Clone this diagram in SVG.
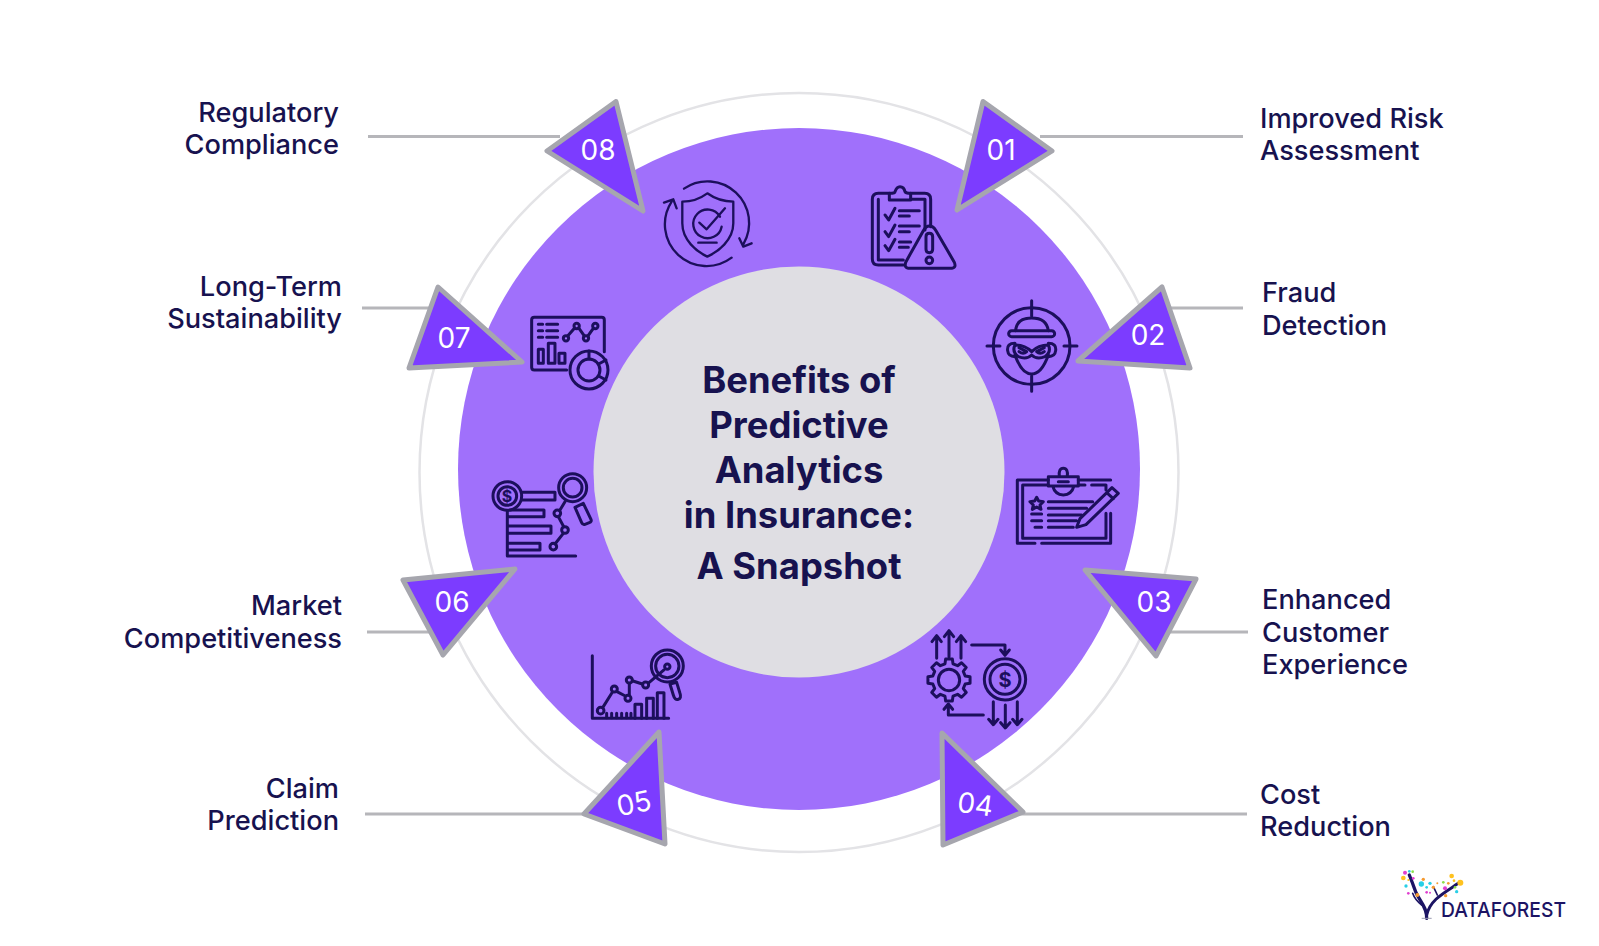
<svg xmlns="http://www.w3.org/2000/svg" width="1599" height="946" viewBox="0 0 1599 946">
<style>
.lbl{font-family:"Inter","Liberation Sans",sans-serif;font-size:27.200px;font-weight:500;fill:#17124f}
.ttl{font-family:"Inter","Liberation Sans",sans-serif;font-size:36.400px;font-weight:700;fill:#17124f;text-anchor:middle}
.num{font-family:"Inter","Liberation Sans",sans-serif;font-size:28px;font-weight:400;fill:#fff;text-anchor:middle}
.tri{fill:#7c3cff;stroke:#a6a6ae;stroke-width:5;stroke-linejoin:round}
.con{stroke:#b6b6ba;stroke-width:3;fill:none}
.ic{fill:none;stroke:#1c0f5c;stroke-width:9;stroke-linecap:round;stroke-linejoin:round}
.th{stroke-width:7}
.dol{font-family:"Inter","Liberation Sans",sans-serif;font-weight:700;fill:#1c0f5c;text-anchor:middle}
.end{text-anchor:end}
</style>
<rect width="1599" height="946" fill="#fff"/>
<g id="rings">
<circle cx="799" cy="472.500" r="379.500" fill="none" stroke="#e3e3e6" stroke-width="2.500"/>
<circle cx="799" cy="469" r="341" fill="#a070fb"/>
<circle cx="799" cy="472" r="205.500" fill="#dfdee3"/>
</g>
<g id="connectors">
<path class="con" d="M1040 136.500H1243M1140 308H1243M1160 632H1248M1015 814H1247M590 814H365M435 632H367M455 308H362M560 136.500H368"/>
</g>
<g id="title">
<text class="ttl" x="799" y="393">Benefits of</text>
<text class="ttl" x="799" y="438">Predictive</text>
<text class="ttl" x="799" y="483">Analytics</text>
<text class="ttl" x="799" y="528">in Insurance:</text>
<text class="ttl" x="799" y="579">A Snapshot</text>
</g>
<g id="node-01">
<polygon class="tri" points="983,101.500 1052,151 957,210"/>
<text class="num" x="1001" y="160">01</text>
<text class="lbl" x="1260" y="127.500">Improved Risk</text>
<text class="lbl" x="1260" y="160">Assessment</text>
<g class="ic" transform="translate(840,80) scale(.3333)">
<path d="M190 555H115Q97 555 97 537V358Q97 340 115 340H148M212 340H254Q272 340 272 358V440M115 358V540H190M212 358H255V450"/>
<path d="M148 360V340Q165 340 165 335Q170 320 180 320Q192 320 195 335Q197 340 212 340V360Z"/>
<path d="M135 405L146 420L165 385M135 455L146 470L165 435M135 497L146 512L165 478M178 392H238M178 408H208M178 438H238M178 455H208M178 486H212M178 502H205"/>
<path d="M268 438Q258 438 250 452L198 545Q190 565 210 565H330Q352 565 342 545L288 452Q280 438 268 438Z"/>
<path d="M258 470Q258 460 268 460Q278 460 278 470V508Q278 518 268 518Q258 518 258 508Z"/>
<circle cx="268" cy="541" r="10"/>
</g>
</g>
<g id="node-02">
<polygon class="tri" points="1162,287 1190,368 1078,361"/>
<text class="num" x="1148" y="345">02</text>
<text class="lbl" x="1262" y="302">Fraud</text>
<text class="lbl" x="1262" y="334.500">Detection</text>
<g class="ic" transform="translate(840,80) scale(.3333)">
<circle cx="575" cy="798" r="115"/>
<path d="M575 662V708M575 888V934M441 798H480M672 798H711"/>
<path d="M527 752Q530 714 575 714Q620 714 625 752"/>
<rect x="506" y="752" width="138" height="18" rx="9"/>
<path d="M525 825Q545 882 575 882Q605 882 625 825"/>
<path d="M525 790Q500 790 503 812Q505 830 525 830M625 790Q650 790 647 812Q645 830 625 830"/>
<path d="M525 795Q555 795 575 815Q595 795 625 795Q635 815 615 830Q590 840 575 825Q560 840 535 830Q515 815 525 795Z"/>
<path d="M537 803L560 815Q550 825 537 815M613 803L590 815Q600 825 613 815"/>
</g>
</g>
<g id="node-03">
<polygon class="tri" points="1085,570 1196,579 1156,656"/>
<text class="num" x="1154" y="612">03</text>
<text class="lbl" x="1262" y="609">Enhanced</text>
<text class="lbl" x="1262" y="641.500">Customer</text>
<text class="lbl" x="1262" y="674">Experience</text>
<g class="ic" transform="translate(900,450) scale(.3333)">
<path d="M445 90H352V280H405M425 280H632V190M632 90H535M368 105V265H618V190M368 105H445M535 105H555M575 105H618V120"/>
<path d="M445 80H535V108H445ZM478 80Q475 55 490 55Q505 55 502 80M458 108Q465 135 490 135Q515 135 522 108M475 95H505"/>
<path d="M410 142L416 153L430 155L420 165L423 178L410 171L397 178L400 165L390 155L404 153Z"/>
<path d="M445 155H578M445 175H560M445 195H545M445 212H530M445 232H520M395 192H425M395 212H425M405 232H425"/>
<path d="M636 113L655 130L558 224L530 232L540 206ZM620 128L640 146"/>
</g>
</g>
<g id="node-04">
<polygon class="tri" points="942,733 1023,812 943,845"/>
<text class="num" transform="translate(974,814) rotate(8)">04</text>
<text class="lbl" x="1260" y="803.500">Cost</text>
<text class="lbl" x="1260" y="836">Reduction</text>
<g class="ic" transform="translate(900,450) scale(.3333)">
<path d="M110 625V560M147 620V545M183 625V560M96 575L110 557L124 575M133 560L147 542L161 560M169 575L183 557L197 575"/>
<polygon transform="translate(147,690)" points="48.500,-12.100 63.200,-10 63.200,10 48.500,12.100 42.900,25.800 51.800,37.600 37.600,51.800 25.800,42.900 12.100,48.500 10,63.200 -10,63.200 -12.100,48.500 -25.800,42.900 -37.600,51.800 -51.800,37.600 -42.900,25.800 -48.500,12.100 -63.200,10 -63.200,-10 -48.500,-12.100 -42.900,-25.800 -51.800,-37.600 -37.600,-51.800 -25.800,-42.900 -12.100,-48.500 -10,-63.200 10,-63.200 12.100,-48.500 25.800,-42.900 37.600,-51.800 51.800,-37.600 42.900,-25.800"/>
<circle cx="147" cy="690" r="32"/>
<circle cx="315" cy="688" r="62"/>
<circle cx="315" cy="688" r="45"/>
<path d="M215 585H315V612M302 600L315 616L328 600M250 795H145V768M132 778L145 762L158 778"/>
<path d="M280 755V822M316 765V832M352 755V822M266 808L280 824L294 808M302 818L316 834L330 818M338 808L352 824L366 808"/>
</g>
<text class="dol" x="1005" y="687" font-size="20">$</text>
</g>
<g id="node-05">
<polygon class="tri" points="659,732 584,814 665,844"/>
<text class="num" transform="translate(636,813) rotate(-12)">05</text>
<text class="lbl end" x="339" y="797.500">Claim</text>
<text class="lbl end" x="339" y="830">Prediction</text>
<g class="ic" transform="translate(390,450) scale(.3333)">
<path d="M607 617V805H836"/>
<path d="M735 805V763H755V805M770 805V745H790V805M802 805V728H822V805"/>
<path d="M650 790V803M665 790V803M680 790V803M695 790V803M710 790V803M723 790V803"/>
<path d="M640 770L667 727M681 725L706 738M718 735L718 702M729 693L757 702M777 698L822 660"/>
<circle cx="632" cy="782" r="10"/><circle cx="673" cy="717" r="9"/><circle cx="714" cy="745" r="9"/><circle cx="718" cy="690" r="9"/><circle cx="767" cy="705" r="9"/><circle cx="832" cy="650" r="8"/>
<circle cx="832" cy="648" r="48"/><circle cx="832" cy="648" r="35"/>
<path d="M840 702L850 735Q855 752 865 748Q875 745 870 730L860 697Z"/>
</g>
</g>
<g id="node-06">
<polygon class="tri" points="403,580 515,569 443,655"/>
<text class="num" x="452" y="612">06</text>
<text class="lbl end" x="342" y="615">Market</text>
<text class="lbl end" x="342" y="647.500">Competitiveness</text>
<g class="ic" transform="translate(390,450) scale(.3333)">
<circle cx="352" cy="138" r="43"/><circle cx="352" cy="138" r="28"/>
<path d="M398 127H495V150H395M360 180H462V200H357M357 228H483V250H357M357 280H450V300H357M352 182V318H557"/>
<circle cx="548" cy="113" r="42"/><circle cx="548" cy="113" r="28"/>
<path d="M555 172L580 160L603 208Q606 215 598 218L585 223Q578 225 575 218Z"/>
<path d="M495 282L520 250M520 228L505 200M510 180L525 155"/>
<circle cx="490" cy="290" r="10"/><circle cx="525" cy="240" r="10"/><circle cx="502" cy="190" r="10"/>
</g>
<text class="dol" x="507" y="502" font-size="16">$</text>
</g>
<g id="node-07">
<polygon class="tri" points="438,287 522,362 409,368"/>
<text class="num" x="454" y="348">07</text>
<text class="lbl end" x="342" y="295.500">Long-Term</text>
<text class="lbl end" x="342" y="328">Sustainability</text>
<g class="ic" transform="translate(390,80) scale(.3333)">
<path d="M530 870H433Q425 870 425 862V720Q425 712 433 712H635Q643 712 643 720V815"/>
<path d="M445 733H458M470 733H503M445 752H458M470 752H503M445 772H458M470 772H503"/>
<path d="M533 768L554 744M566 744L583 768M594 768L610 745"/>
<circle cx="528" cy="775" r="8"/><circle cx="560" cy="738" r="8"/><circle cx="588" cy="775" r="8"/><circle cx="616" cy="738" r="8"/>
<rect x="445" y="808" width="15" height="42"/><rect x="475" y="790" width="20" height="60"/><rect x="507" y="820" width="18" height="30"/>
<circle cx="597" cy="870" r="57"/><circle cx="597" cy="870" r="33"/>
<path d="M597 813V837M626 888L648 900M626 852L648 840"/>
</g>
</g>
<g id="node-08">
<polygon class="tri" points="616,101.500 547,151 643,211"/>
<text class="num" x="598" y="160">08</text>
<text class="lbl end" x="339" y="121.500">Regulatory</text>
<text class="lbl end" x="339" y="154">Compliance</text>
<g class="ic th" transform="translate(390,80) scale(.3333)">
<path d="M952 340C925 360 900 365 877 365V430C877 480 920 515 952 530C985 515 1030 480 1030 430V365C1005 365 980 360 952 340Z"/>
<path d="M990 410A43 43 0 1 0 995 440"/>
<path d="M928 428L950 448L1005 385M925 488H980"/>
<path d="M882 326A125 125 0 0 1 1060 493M1048 475L1060 500L1085 490"/>
<path d="M1025 533A125 125 0 0 1 845 365M822 368L850 358L860 385"/>
</g>
</g>
<g id="logo" transform="translate(1380,850) scale(.3333)">
<g fill="none" stroke="#1c1464" stroke-linecap="round">
<path stroke-width="10" d="M140 205C142 170 115 150 105 120Q98 100 88 75"/>
<path stroke-width="9" d="M140 195C150 150 190 130 235 100"/>
<path stroke-width="5" d="M125 165Q105 150 98 130M172 135Q165 120 160 110"/>
</g>
<path d="M125 205H155" stroke="#9a9ab0" stroke-width="3"/>
<g fill="#ffc21f"><circle cx="241" cy="98" r="9"/><circle cx="215" cy="78" r="7"/><circle cx="70" cy="84" r="7"/><circle cx="222" cy="92" r="4"/><circle cx="85" cy="90" r="3"/></g>
<g fill="#29cfe6"><circle cx="124" cy="102" r="8"/><circle cx="150" cy="100" r="5"/><circle cx="78" cy="108" r="5"/><circle cx="230" cy="125" r="5"/><circle cx="88" cy="64" r="4"/><circle cx="140" cy="112" r="4"/></g>
<g fill="#e040d0"><circle cx="75" cy="68" r="6"/><circle cx="100" cy="85" r="4"/><circle cx="195" cy="115" r="6"/><circle cx="140" cy="127" r="4"/><circle cx="85" cy="130" r="4"/><circle cx="150" cy="128" r="3"/></g>
<g fill="#f59a30"><circle cx="112" cy="135" r="6"/><circle cx="130" cy="88" r="5"/><circle cx="160" cy="112" r="5"/><circle cx="205" cy="100" r="4"/><circle cx="197" cy="137" r="5"/><circle cx="172" cy="100" r="3"/></g>
<g fill="#8be04a"><circle cx="98" cy="65" r="4"/><circle cx="190" cy="97" r="4"/><circle cx="225" cy="112" r="4"/></g>
</g>
<text id="logo-text" x="1441" y="917" font-family="Inter,'Liberation Sans',sans-serif" font-size="20.500" font-weight="500" fill="#1c1464" textLength="125" lengthAdjust="spacingAndGlyphs">DATAFOREST</text>
</svg>
